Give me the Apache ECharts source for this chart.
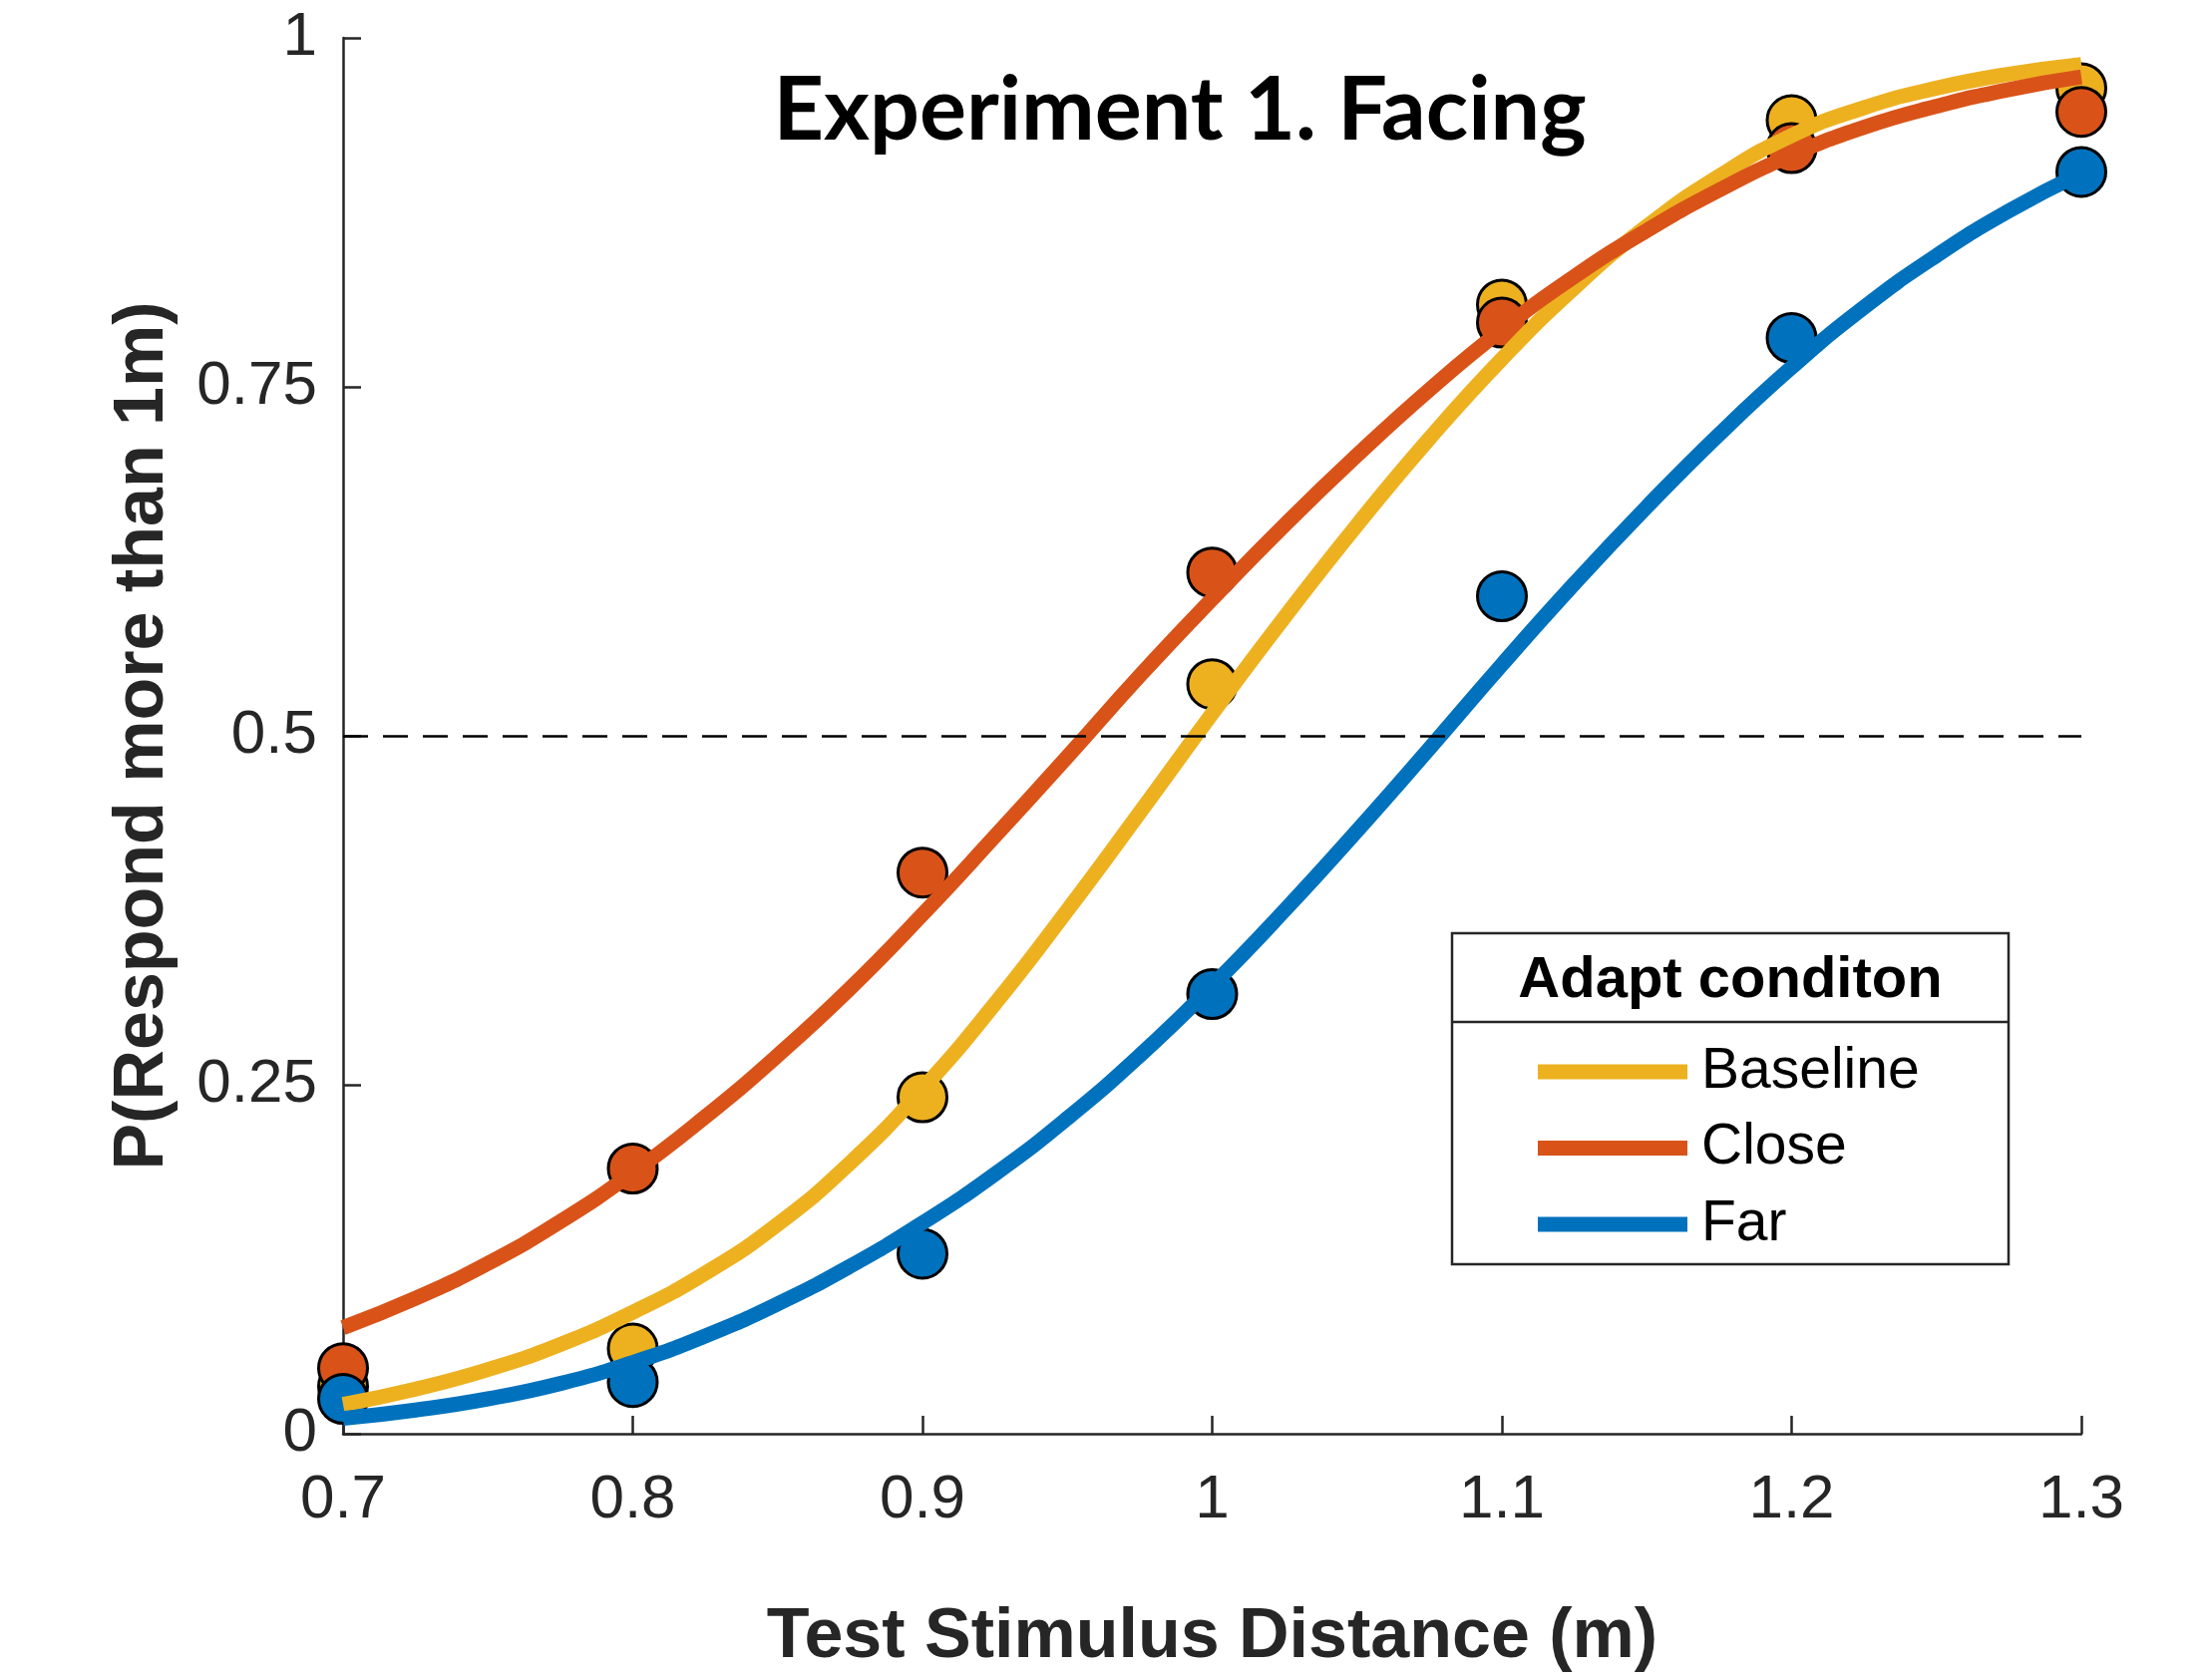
<!DOCTYPE html>
<html>
<head>
<meta charset="utf-8">
<script src="https://cdn.jsdelivr.net/npm/echarts@6/dist/echarts.min.js"></script>
<style>
html,body{margin:0;padding:0;background:#fff;}
#chart{width:2212px;height:1685px;}
</style>
</head>
<body>
<div id="chart"></div>
<script>
// ---- data ----
const stimulus = [0.7, 0.8, 0.9, 1.0, 1.1, 1.2, 1.3];
const baselineObs = [0.034, 0.061, 0.241, 0.537, 0.809, 0.941, 0.964];
const closeObs    = [0.047, 0.190, 0.402, 0.617, 0.796, 0.921, 0.947];
const farObs      = [0.025, 0.037, 0.129, 0.315, 0.600, 0.785, 0.904];

const fitX = [0.7, 0.725, 0.75, 0.775, 0.8, 0.825, 0.85, 0.875, 0.9, 0.925, 0.95, 0.975,
              1.0, 1.025, 1.05, 1.075, 1.1, 1.125, 1.15, 1.175, 1.2, 1.225, 1.25, 1.275, 1.3];
const baselineFit = [0.021, 0.032, 0.046, 0.064, 0.087, 0.115, 0.150, 0.194, 0.247, 0.308, 0.375, 0.445,
                     0.516, 0.585, 0.651, 0.713, 0.770, 0.821, 0.865, 0.901, 0.930, 0.950, 0.964, 0.974, 0.981];
const closeFit    = [0.076, 0.097, 0.122, 0.152, 0.187, 0.227, 0.271, 0.319, 0.372, 0.428, 0.485, 0.543,
                     0.598, 0.651, 0.701, 0.748, 0.791, 0.829, 0.862, 0.891, 0.916, 0.936, 0.951, 0.963, 0.972];
const farFit      = [0.011, 0.017, 0.025, 0.036, 0.051, 0.070, 0.093, 0.120, 0.151, 0.186, 0.226, 0.271,
                     0.321, 0.375, 0.432, 0.491, 0.551, 0.609, 0.664, 0.716, 0.764, 0.807, 0.844, 0.876, 0.903];

const xTickLabels = ['0.7', '0.8', '0.9', '1', '1.1', '1.2', '1.3'];
const yTickLabels = ['0', '0.25', '0.5', '0.75', '1'];
const seriesNames = ['Baseline', 'Close', 'Far'];
const threshold = 0.5;

const titleText = 'Experiment 1. Facing';
const legendTitle = 'Adapt conditon';
const xName = 'Test Stimulus Distance (m)';
const yName = 'P(Respond more than 1m)';

// ---- styling ----
const colors = ['#EDB120', '#D95319', '#0072BD'];
const axisColor = '#262626';
const FONT = '"Liberation Sans", Arial, Helvetica, sans-serif';

const obs = [baselineObs, closeObs, farObs];
const fits = [baselineFit, closeFit, farFit];

const series = [];
obs.forEach((arr, i) => {
  series.push({
    name: seriesNames[i] + ' data',
    type: 'scatter',
    z: 2,
    symbol: 'circle',
    symbolSize: 49,
    itemStyle: { color: colors[i], borderColor: '#000', borderWidth: 3, opacity: 1 },
    emphasis: { disabled: true },
    data: stimulus.map((x, k) => [x, arr[k]]),
    markLine: i === 0 ? {
      silent: true,
      symbol: ['none', 'none'],
      label: { show: false },
      lineStyle: { color: '#000', width: 2.5, type: [25, 15] },
      data: [{ yAxis: threshold }]
    } : undefined
  });
});
fits.forEach((arr, i) => {
  series.push({
    name: seriesNames[i],
    type: 'line',
    z: 3,
    showSymbol: false,
    symbol: 'none',
    smooth: 0.5,
    itemStyle: { color: colors[i] },
    lineStyle: { color: colors[i], width: 15, cap: 'butt' },
    emphasis: { disabled: true },
    data: fitX.map((x, k) => [x, arr[k]])
  });
});

const chart = echarts.init(document.getElementById('chart'), null, { renderer: 'canvas' });
chart.setOption({
  backgroundColor: '#ffffff',
  animation: false,
  grid: { left: 344, top: 38, width: 1743, height: 1400, containLabel: false },
  xAxis: {
    type: 'value', min: 0.7, max: 1.3, interval: 0.1,
    axisLine: { show: true, onZero: false, lineStyle: { color: axisColor, width: 2.5 } },
    axisTick: { show: true, inside: true, length: 18, lineStyle: { color: axisColor, width: 2.5 } },
    splitLine: { show: false },
    axisLabel: {
      fontSize: 62, color: axisColor, fontFamily: FONT, margin: 36,
      formatter: v => xTickLabels[Math.round((v - 0.7) / 0.1)]
    },
    name: xName, nameLocation: 'middle', nameGap: 170,
    nameTextStyle: { fontSize: 70, fontWeight: 'bold', color: axisColor, fontFamily: FONT }
  },
  yAxis: {
    type: 'value', min: 0, max: 1, interval: 0.25,
    axisLine: { show: true, onZero: false, lineStyle: { color: axisColor, width: 2.5 } },
    axisTick: { show: true, inside: true, length: 18, lineStyle: { color: axisColor, width: 2.5 } },
    splitLine: { show: false },
    axisLabel: {
      fontSize: 62, color: axisColor, fontFamily: FONT, margin: 26,
      formatter: v => yTickLabels[Math.round(v / 0.25)]
    },
    name: yName, nameLocation: 'middle', nameGap: 165,
    nameTextStyle: { fontSize: 70, fontWeight: 'bold', color: axisColor, fontFamily: FONT }
  },
  legend: {
    data: seriesNames,
    orient: 'vertical',
    left: 1542, top: 1045,
    z: 100,
    padding: 0,
    icon: 'rect',
    itemWidth: 150, itemHeight: 15,
    itemGap: 16.5,
    selectedMode: false,
    textStyle: { fontSize: 57, color: '#000', fontFamily: FONT, lineHeight: 60, padding: [0, 0, 0, 9] }
  },
  graphic: [
    {
      type: 'rect', z: 50, silent: true,
      shape: { x: 1456, y: 936, width: 558, height: 332 },
      style: { fill: '#fff', stroke: axisColor, lineWidth: 2.5 }
    },
    {
      type: 'line', z: 51, silent: true,
      shape: { x1: 1456, y1: 1025, x2: 2014, y2: 1025 },
      style: { stroke: axisColor, lineWidth: 2.5 }
    },
    {
      type: 'text', z: 51, silent: true,
      x: 1735, y: 984,
      style: {
        text: legendTitle, fill: '#000', font: 'bold 58px ' + FONT,
        textAlign: 'center', textVerticalAlign: 'middle'
      }
    },
    {
      type: 'text', z: 60, silent: true,
      x: 1183, y: 112,
      style: {
        text: titleText, fill: '#000', font: 'bold 88px Lato, "Open Sans", sans-serif',
        textAlign: 'center', textVerticalAlign: 'middle'
      }
    }
  ],
  series: series
});
</script>
</body>
</html>
